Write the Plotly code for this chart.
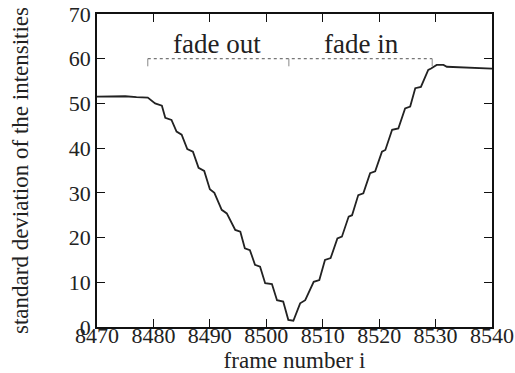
import plotly.graph_objects as go

# curve (frame number, standard deviation)
frames = [8470, 8472, 8475, 8477, 8479, 8480.3, 8481.5, 8482.1, 8483.2, 8484.1,
          8485.0, 8486.0, 8487.0, 8488.0, 8489.0, 8490.0, 8490.8, 8492.1, 8493.0,
          8494.5, 8495.4, 8496.2, 8497.1, 8498.0, 8498.9, 8499.8, 8501.0, 8501.9,
          8503.0, 8503.9, 8504.8, 8506.0, 8506.9, 8508.4, 8509.4, 8510.4, 8511.4,
          8512.6, 8513.4, 8514.6, 8515.2, 8516.3, 8517.2, 8518.4, 8519.3, 8520.5,
          8521.1, 8522.3, 8523.4, 8524.6, 8525.5, 8526.4, 8527.4, 8528.7, 8529.2,
          8530.2, 8531.4, 8532.0, 8536.0, 8540.0]
std_dev = [51.5, 51.6, 51.6, 51.4, 51.3, 50.0, 49.5, 46.8, 46.3, 43.7,
           43.0, 39.8, 39.2, 35.6, 34.9, 30.8, 30.0, 26.2, 25.4,
           21.7, 21.3, 17.6, 17.2, 13.9, 13.5, 9.8, 9.6, 6.0,
           5.7, 1.6, 1.4, 5.3, 6.0, 10.1, 10.5, 15.0, 15.4,
           19.8, 20.2, 24.7, 25.0, 29.5, 29.9, 34.4, 34.8, 39.2,
           39.6, 44.1, 44.4, 48.9, 49.3, 53.4, 53.7, 57.5, 57.8,
           58.6, 58.6, 58.2, 58.0, 57.8]

# bracket marking the fade-out / fade-in interval
bracket_x = [8479, 8504, 8529.4]
bracket_y = 60
bracket_tick_y = 58.3
labels = ["fade out", "fade in"]
label_x = [8491.3, 8516.9]
label_y = 63.4

x_ticks = [8470, 8480, 8490, 8500, 8510, 8520, 8530, 8540]
y_ticks = [0, 10, 20, 30, 40, 50, 60, 70]

font_family = "Liberation Serif"
ink = "#222222"

fig = go.Figure()

fig.add_trace(go.Scatter(
    x=frames, y=std_dev, mode="lines",
    line=dict(color=ink, width=1.8), showlegend=False, hoverinfo="skip"))

# bracket horizontal line
fig.add_trace(go.Scatter(
    x=[bracket_x[0], bracket_x[-1]], y=[bracket_y, bracket_y], mode="lines",
    line=dict(color="#555555", width=1, dash="dot"), showlegend=False, hoverinfo="skip"))
# bracket small ticks
for bx in bracket_x:
    fig.add_trace(go.Scatter(
        x=[bx, bx], y=[bracket_y, bracket_tick_y], mode="lines",
        line=dict(color="#888888", width=1), showlegend=False, hoverinfo="skip"))

for txt, lx in zip(labels, label_x):
    fig.add_annotation(x=lx, y=label_y, text=txt, showarrow=False,
                       font=dict(family=font_family, size=27, color=ink),
                       xanchor="center", yanchor="middle")

axis_common = dict(
    showgrid=False, zeroline=False, showline=True, mirror="ticks",
    linecolor="#111111", linewidth=1.5, ticks="inside", ticklen=8,
    tickcolor="#111111", tickwidth=1.2, automargin=False,
    tickfont=dict(family=font_family, size=22, color=ink),
)

fig.update_layout(
    width=515, height=373,
    margin=dict(l=97, r=23, t=14, b=46),
    paper_bgcolor="white", plot_bgcolor="white",
    font=dict(family=font_family, color=ink),
    xaxis=dict(range=[8470, 8540], tickvals=x_ticks, ticklabelstandoff=-12,
               title=dict(text="frame number i", standoff=0,
                          font=dict(family=font_family, size=23, color=ink)),
               **axis_common),
    yaxis=dict(range=[0, 70], tickvals=y_ticks,
               title=dict(text="standard deviation of the intensities", standoff=34,
                          font=dict(family=font_family, size=23, color=ink)),
               **axis_common),
)

fig.write_html("out.html")
